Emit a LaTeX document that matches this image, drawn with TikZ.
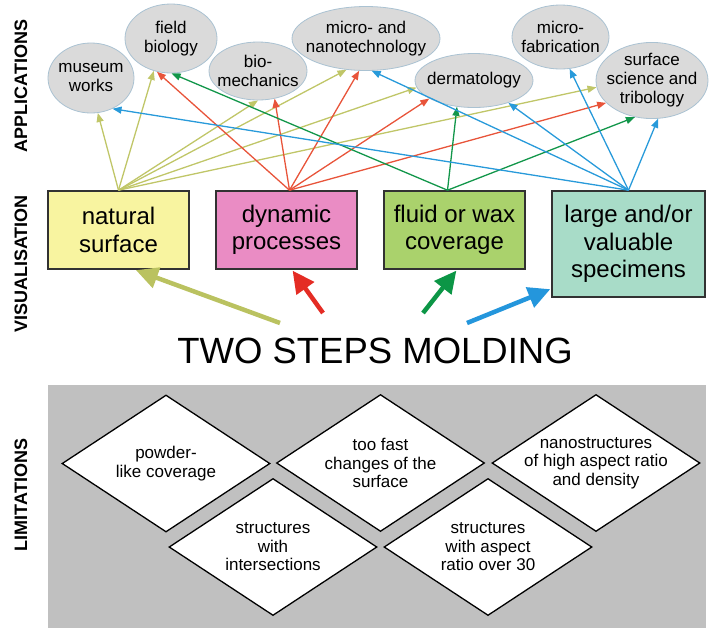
\documentclass[tikz,border=0pt]{standalone}
\usepackage{fontspec}
\setmainfont{Liberation Sans}
\usetikzlibrary{shapes.geometric,arrows.meta}
\definecolor{olivearr}{RGB}{192,198,104}
\definecolor{redarr}{RGB}{232,84,58}
\definecolor{greenarr}{RGB}{18,150,74}
\definecolor{bluearr}{RGB}{40,154,218}
\definecolor{olivebig}{RGB}{186,194,96}
\definecolor{redbig}{RGB}{228,44,36}
\definecolor{greenbig}{RGB}{12,150,70}
\definecolor{bluebig}{RGB}{36,150,220}
\definecolor{natfill}{RGB}{248,244,160}
\definecolor{dynfill}{RGB}{234,140,196}
\definecolor{fluidfill}{RGB}{170,210,108}
\definecolor{largefill}{RGB}{168,220,200}
\definecolor{appfill}{RGB}{218,218,218}
\definecolor{appline}{RGB}{170,194,210}
\definecolor{limfill}{RGB}{192,192,192}
\definecolor{boxline}{RGB}{50,50,50}

\begin{document}
\begin{tikzpicture}[x=1pt,y=-1pt]
\tikzstyle{every node}+=[inner sep=0pt]
\tikzstyle{app}=[ellipse,draw=appline,fill=appfill,line width=0.8pt,inner xsep=-30pt,align=center,font=\fontsize{17}{19}\selectfont]
\tikzstyle{vis}=[rectangle,draw=boxline,line width=1.6pt,minimum width=141pt,minimum height=78pt,align=center,font=\fontsize{24}{27.5}\selectfont]
\tikzstyle{lim}=[diamond,draw=black,fill=white,line width=1.3pt,aspect=1.52,inner sep=-4pt,minimum width=208pt,minimum height=137pt,align=center,font=\fontsize{17}{18.5}\selectfont]
\tikzstyle{side}=[rotate=90,font=\bfseries\fontsize{18}{18}\selectfont]
\tikzstyle{link}=[line width=1.3pt,-{Triangle[length=9pt,width=7pt]}]
\tikzstyle{push}=[line width=4.5pt,shorten >=1pt,-{Triangle[length=22pt,width=21pt]}]
\useasboundingbox (0,0) rectangle (714,633);
\node[side] (applab) at (21,86) {APPLICATIONS};
\node[side] (vislab) at (21,264) {VISUALISATION};
\node[side] (limlab) at (21,495) {LIMITATIONS};
\node[app,minimum width=86pt,minimum height=70pt] (museum) at (91,78) {museum\\works};
\node[app,minimum width=92pt,minimum height=69pt] (fieldbio) at (171,38.5) {field\\biology};
\node[app,minimum width=98pt,minimum height=58pt] (biomech) at (258,71) {bio-\\mechanics};
\node[app,minimum width=148pt,minimum height=64pt] (nanotech) at (366,38.5) {micro- and\\nanotechnology};
\node[app,minimum width=118pt,minimum height=54pt] (dermat) at (474,80.5) {dermatology};
\node[app,minimum width=97pt,minimum height=64pt] (microfab) at (560.5,37) {micro-\\fabrication};
\node[app,minimum width=112pt,minimum height=75pt] (surfsci) at (652,80.5) {surface\\science and\\tribology};
\node[vis,fill=natfill] (natural) at (118.5,230) {natural\\surface};
\node[vis,fill=dynfill] (dynamic) at (286.5,230) {dynamic\\processes};
\node[vis,fill=fluidfill] (fluid) at (454.5,230) {fluid or wax\\coverage};
\node[vis,fill=largefill,minimum width=153pt,minimum height=106pt] (large) at (628.5,244) {large and/or\\valuable\\specimens};
\draw [link,olivearr] (natural.north) -- (museum.281);
\draw [link,olivearr] (natural.north) -- (fieldbio.242);
\draw [link,olivearr] (natural.north) -- (biomech.270);
\draw [link,olivearr] (natural.north) -- (nanotech.238);
\draw [link,olivearr] (natural.north) -- (dermat.187);
\draw [link,olivearr] (natural.north) -- (surfsci.187);
\draw [link,redarr] ([xshift=3pt]dynamic.north) -- (fieldbio.247);
\draw [link,redarr] ([xshift=3pt]dynamic.north) -- (biomech.301.5);
\draw [link,redarr] ([xshift=3pt]dynamic.north) -- (nanotech.258);
\draw [link,redarr] ([xshift=3pt]dynamic.north) -- (dermat.202.5);
\draw [link,redarr] ([xshift=3pt]dynamic.north) -- (surfsci.206.6);
\draw [link,greenarr] ([xshift=-7pt]fluid.north) -- (fieldbio.271.5);
\draw [link,greenarr] ([xshift=-7pt]fluid.north) -- (dermat.237);
\draw [link,greenarr] ([xshift=-7pt]fluid.north) -- (surfsci.245.6);
\draw [link,bluearr] (large.north) -- (museum.305);
\draw [link,bluearr] (large.north) -- (nanotech.280);
\draw [link,bluearr] (large.north) -- (dermat.327);
\draw [link,bluearr] (large.north) -- (microfab.286.5);
\draw [link,bluearr] (large.north) -- (surfsci.279);
\node[font=\fontsize{36.5}{40}\selectfont,anchor=base] (molding) at (375,363) {TWO STEPS MOLDING};
\coordinate (tailnat) at (280,323);
\coordinate (taildyn) at (323,313);
\coordinate (tailflu) at (423,313);
\coordinate (taillar) at (467,323);
\draw [push,olivebig] (tailnat) -- ([xshift=16.5pt]natural.south);
\draw [push,redbig] (taildyn) -- ([xshift=5.5pt]dynamic.south);
\draw [push,greenbig] (tailflu) -- ([xshift=2.5pt]fluid.south);
\draw [push,bluebig] (taillar) -- ([yshift=9pt]large.south west);
\fill [limfill] (48,385) rectangle (706,628);
\node[lim] (powder) at (166,463.5) {powder-\\like coverage};
\node[lim] (toofast) at (380.5,463) {too fast\\changes of the\\surface};
\node[lim] (nanostr) at (596,463) {nanostructures\\of high aspect ratio\\and density};
\node[lim] (intersect) at (273,547) {structures\\with\\intersections};
\node[lim] (aspect) at (488,547) {structures\\with aspect\\ratio over 30};
\end{tikzpicture}
\end{document}
